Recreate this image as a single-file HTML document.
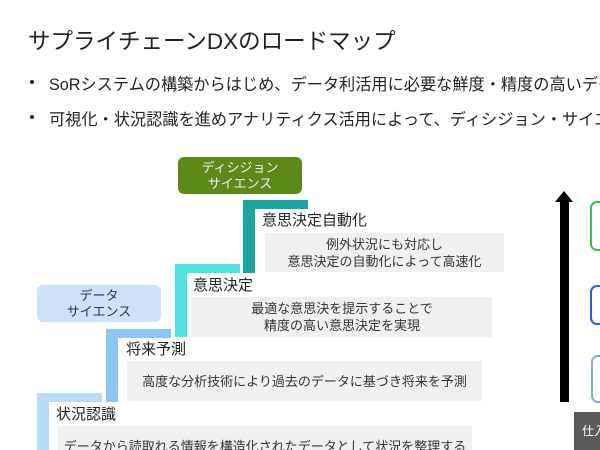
<!DOCTYPE html>
<html style="overflow:hidden"><head><meta charset="utf-8"><style>
html,body{margin:0;width:600px;height:450px;overflow:hidden;background:#fff}
#w{position:relative;width:600px;height:450px;overflow:hidden;font-family:"Liberation Sans","Noto Sans CJK JP",sans-serif;color:#222}
#w div{position:absolute;box-sizing:border-box}
.t{white-space:nowrap}
.g{background:#f0f0f0;text-align:center;font-size:13px;line-height:17px;color:#333;display:flex;align-items:center;justify-content:center;flex-direction:column}
.lab{font-size:15px;color:#222;white-space:nowrap}
</style></head><body><div id="w">
<div class="t" style="left:28px;top:24px;font-size:22.5px;color:#222">サプライチェーンDXのロードマップ</div>
<div style="left:30px;top:80px;width:4px;height:4px;border-radius:2px;background:#223"></div>
<div class="t" style="left:49px;top:71px;width:551px;overflow:hidden;font-size:16.2px">SoRシステムの構築からはじめ、データ利活用に必要な鮮度・精度の高いデータ</div>
<div style="left:30px;top:115px;width:4px;height:4px;border-radius:2px;background:#223"></div>
<div class="t" style="left:49px;top:106px;width:551px;overflow:hidden;font-size:16.2px">可視化・状況認識を進めアナリティクス活用によって、ディシジョン・サイエンス</div>

<div style="left:178px;top:157px;width:124px;height:37px;background:#5b8b16;border-radius:6px;color:#eef;font-size:13px;line-height:16px;text-align:center;padding-top:3px">ディシジョン<br>サイエンス</div>
<div style="left:37px;top:285px;width:124px;height:37px;background:#cfe0fa;border-radius:6px;color:#333;font-size:13px;line-height:16px;text-align:center;padding-top:3px">データ<br>サイエンス</div>

<div style="left:243px;top:200px;width:65px;height:9px;background:#1aa6a0"></div>
<div style="left:243px;top:200px;width:12px;height:73px;background:#1aa6a0"></div>
<div class="lab" style="left:262px;top:209px">意思決定自動化</div>
<div class="g" style="left:265px;top:233px;width:239px;height:39px"><span>例外状況にも対応し</span><span>意思決定の自動化によって高速化</span></div>
<div style="left:175px;top:264px;width:65px;height:9px;background:#4ee3e0"></div>
<div style="left:175px;top:264px;width:12px;height:73px;background:#4ee3e0"></div>
<div class="lab" style="left:193px;top:274px">意思決定</div>
<div class="g" style="left:192px;top:297px;width:300px;height:40px"><span>最適な意思決を提示することで</span><span>精度の高い意思決定を実現</span></div>
<div style="left:106px;top:329px;width:65px;height:9px;background:#8cc6f6"></div>
<div style="left:106px;top:329px;width:12px;height:73px;background:#8cc6f6"></div>
<div class="lab" style="left:126px;top:338px">将来予測</div>
<div class="g" style="left:127px;top:361px;width:355px;height:40px"><span>高度な分析技術により過去のデータに基づき将来を予測</span></div>
<div style="left:37px;top:393px;width:65px;height:9px;background:#b8dbf9"></div>
<div style="left:37px;top:393px;width:12px;height:57px;background:#b8dbf9"></div>
<div class="lab" style="left:56px;top:403px">状況認識</div>
<div class="g" style="left:58px;top:426px;width:414px;height:24px;justify-content:flex-start;padding-top:12px;overflow:hidden"><span>データから読取れる情報を構造化されたデータとして状況を整理する</span></div>

<div style="left:560px;top:200px;width:9px;height:202px;background:#000"></div>
<div style="left:555px;top:191px;width:0;height:0;border-left:9.5px solid transparent;border-right:9.5px solid transparent;border-bottom:11px solid #000"></div>

<div style="left:590px;top:201px;width:10px;height:50px;border:2px solid #3cc050;border-right:none;border-radius:7px 0 0 7px"></div>
<div style="left:590px;top:285px;width:10px;height:40px;border:2px solid #1f5ff5;border-right:none;border-radius:7px 0 0 7px"></div>
<div style="left:591px;top:355px;width:9px;height:48px;border:2px solid #7fa8f8;border-right:none;border-radius:7px 0 0 7px"></div>
<div class="t" style="left:574px;top:412px;width:26px;height:38px;overflow:hidden;background:#5a5a5a;color:#fff;font-size:12px;padding:10px 0 0 8px">仕入</div>
</div></body></html>
